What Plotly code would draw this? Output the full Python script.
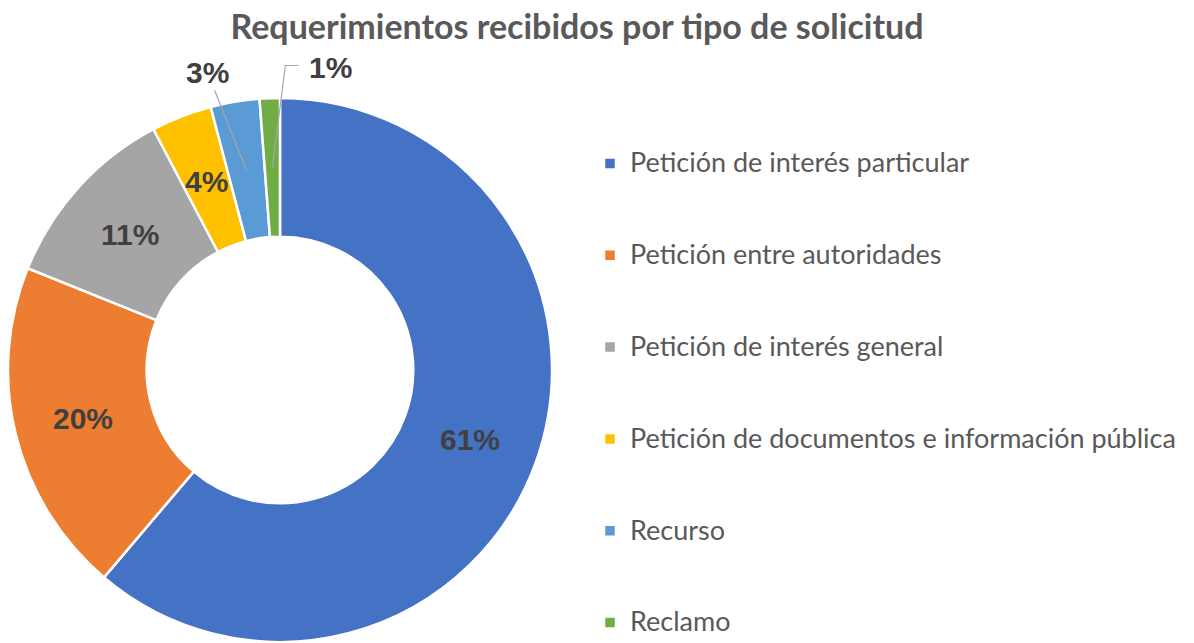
import numpy as np
import plotly.graph_objects as go

categories = ["Petición de interés particular", "Petición entre autoridades",
              "Petición de interés general", "Petición de documentos e información pública",
              "Recurso", "Reclamo"]
values = [61.2, 19.9, 11.2, 3.6, 2.9, 1.2]
colors = ["#4472C4", "#ED7D31", "#A5A5A5", "#FFC000", "#5B9BD5", "#70AD47"]
title_text = "Requerimientos recibidos por tipo de solicitud"

# page offset of the figure (default body margin)
OFF = 8
W, H = 1194 - OFF, 643 - OFF
cx, cy, R = 280 - OFF, 370 - OFF, 272   # pie center / radius in figure px
hole = 0.49

leg_base = 22.77
leg_size = 27

fig = go.Figure()
fig.add_trace(go.Pie(
    labels=[f" <br> <br><span style='font-size:{leg_size}px'>{c}</span>" for c in categories],
    values=values,
    marker=dict(colors=colors, line=dict(color="white", width=2.5)),
    hole=hole, sort=False, direction="clockwise", rotation=0,
    textinfo="none", hoverinfo="none",
    domain=dict(x=[(cx - R) / W, (cx + R) / W], y=[1 - (cy + R) / H, 1 - (cy - R) / H]),
))

# percentage labels from the data
vals = np.array(values)
total = vals.sum()
cum = np.cumsum(vals) - vals / 2
rmid = R * (1 + hole) / 2
lab_font = dict(family="Liberation Sans", size=30, color="#404040")
line_col = "#A6A6A6"


def fx(p):
    return p / W


def fy(p):
    return 1 - p / H


for i, v in enumerate(vals):
    theta = np.deg2rad(cum[i] / total * 360)
    px = cx + rmid * np.sin(theta)
    py = cy - rmid * np.cos(theta)
    txt = f"<b>{round(v / total * 100):.0f}%</b>"
    if i < 4:
        fig.add_annotation(x=fx(px), y=fy(py), xref="paper", yref="paper",
                           xanchor="center", yanchor="middle",
                           text=txt, showarrow=False, font=lab_font)
    elif i == 4:
        fig.add_annotation(x=fx(px), y=fy(py), xref="paper", yref="paper",
                           text=txt, showarrow=True, arrowhead=0, arrowwidth=1.2,
                           arrowcolor=line_col, ax=-39, ay=-98, font=lab_font)
    else:
        # elbow leader line
        fig.add_shape(type="path", xref="paper", yref="paper",
                      path=f"M {fx(px)} {fy(py)} L {fx(px + 13)} {fy(py - 102)} L {fx(px + 26)} {fy(py - 102)}",
                      line=dict(color=line_col, width=1.2))
        fig.add_annotation(x=fx(px + 58), y=fy(py - 100), xref="paper", yref="paper",
                           xanchor="center", yanchor="middle",
                           text=txt, showarrow=False, font=lab_font)

fig.update_layout(
    width=W, height=H,
    margin=dict(l=0, r=0, t=0, b=0, autoexpand=False),
    paper_bgcolor="white", plot_bgcolor="white",
    title=dict(text="<b>" + title_text + "</b>", x=(577 - OFF) / W, xanchor="center",
               y=1 - (27 - OFF) / H, yanchor="middle", yref="container",
               font=dict(family="Lato", size=34, color="#595959")),
    legend=dict(x=(590 - OFF) / W, xanchor="left", y=1 - (83 - OFF) / H, yanchor="top",
                valign="bottom", font=dict(family="Lato", size=leg_base, color="#595959"),
                traceorder="normal"),
    showlegend=True,
)
fig.write_html("out.html")
